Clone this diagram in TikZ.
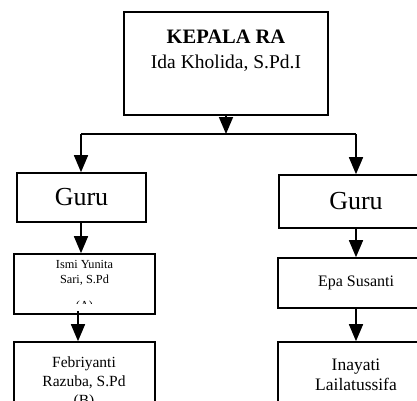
\documentclass[tikz,border=0pt]{standalone}
\usepackage{fontspec}
\setmainfont{Liberation Serif}
\usetikzlibrary{arrows.meta,positioning}

\tikzset{
  box/.style={draw, line width=1.6pt, rectangle, inner sep=0pt},
  arr/.style={line width=1.6pt, -{Triangle[length=17pt,width=14pt]}},
  txt/.style={anchor=base, inner sep=0pt, align=center},
}

\begin{document}
\begin{tikzpicture}[x=1pt,y=-1pt]
  \useasboundingbox (0,0) rectangle (417,400);
  \clip (0,0) rectangle (417,400);
  % kepala RA
  \node[box, minimum width=204pt, minimum height=103pt] (kepala) at (226,63.5) {};
  \node[txt, font=\fontsize{20.5}{22}\selectfont\bfseries] (kepalajab) at (226,43) {KEPALA RA};
  \node[txt, font=\fontsize{19.5}{22}\selectfont] (kepalanama) at (226,68) {Ida Kholida, S.Pd.I};
  % guru
  \node[box, minimum width=129pt, minimum height=49pt, font=\fontsize{26}{28}\selectfont] (guruA) at (81.5,197.5) {Guru};
  \node[box, minimum width=154pt, minimum height=53pt, font=\fontsize{26}{28}\selectfont] (guruB) at (356,201.5) {Guru};
  % kelas kiri (base = last line)
  \node[box, minimum width=141pt, minimum height=60pt] (ismi) at (84.5,284) {};
  \begin{scope}
    \clip (14,254) rectangle (155,303);
    \node[txt, font=\fontsize{12.3}{15}\selectfont] (ismitxt) at (84.5,309) {Ismi Yunita\\Sari, S.Pd\\[11pt](A)};
  \end{scope}
  \node[box, minimum width=141pt, minimum height=70pt] (febri) at (84.5,377) {};
  \node[txt, font=\fontsize{15.5}{19}\selectfont] (febritxt) at (84,405) {Febriyanti\\Razuba, S.Pd\\(B)};
  % kelas kanan
  \node[box, minimum width=156pt, minimum height=50pt, font=\fontsize{16}{19}\selectfont] (epa) at (356,283) {Epa Susanti};
  \node[box, minimum width=156pt, minimum height=70pt] (inayati) at (356,377) {};
  \node[txt, font=\fontsize{17.5}{20}\selectfont] (inayatitxt) at (356,390) {Inayati\\Lailatussifa};
  % garis
  \coordinate (bagi) at (226,134);
  \coordinate (bagikiri) at (81,134);
  \coordinate (bagikanan) at (356,134);
  \coordinate (turun) at (78,311);
  \draw[arr] (kepala.south) -- (bagi);
  \draw[line width=1.6pt] (bagikiri) -- (bagikanan);
  \draw[arr] (bagikiri) -- (bagikiri |- guruA.north);
  \draw[arr] (bagikanan) -- (guruB.north);
  \draw[arr] (guruA.south -| bagikiri) -- (bagikiri |- ismi.north);
  \draw[arr] (turun) -- (turun |- febri.north);
  \draw[arr] (guruB.south) -- (epa.north);
  \draw[arr] (epa.south) -- (inayati.north);
\end{tikzpicture}
\end{document}
